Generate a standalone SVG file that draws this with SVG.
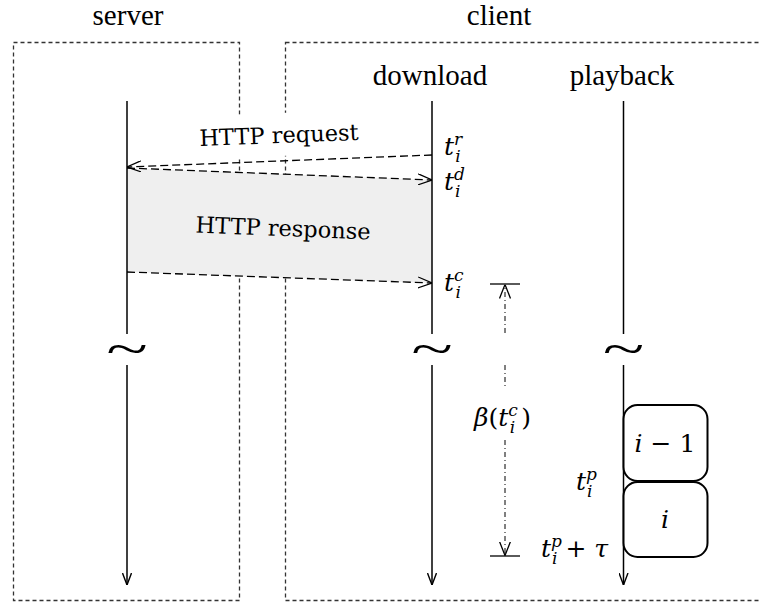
<svg xmlns="http://www.w3.org/2000/svg" width="760" height="603" viewBox="0 0 760 603">
  <style>
    .frame { fill: none; stroke: #333; stroke-width: 1.3; stroke-dasharray: 4 3; }
    .life { fill: none; stroke: #000; stroke-width: 1.5; }
    .msg { fill: none; stroke: #000; stroke-width: 1.3; stroke-dasharray: 8 4; }
    .span { fill: none; stroke: #000; stroke-width: 1; stroke-dasharray: 5 3 1 3; }
    .bar { fill: none; stroke: #000; stroke-width: 1.3; }
    .seg { fill: #fff; stroke: #000; stroke-width: 2; }
    .head { font-family: "Liberation Serif", "Times New Roman", "DejaVu Serif", serif; font-size: 29px; fill: #000; text-anchor: middle; }
    .lbl { font-family: "DejaVu Serif", serif; font-size: 22.5px; fill: #000; text-anchor: middle; }
    .m { font-family: "DejaVu Serif", serif; font-style: italic; font-size: 25px; fill: #000; }
    .s { font-size: 17px; }
    .n { font-style: normal; }
    .tilde { font-family: "Liberation Serif", serif; font-size: 48px; fill: #000; text-anchor: middle; }
  </style>
  <defs>
    <marker id="open" viewBox="0 0 14 12" refX="14" refY="6" markerWidth="14" markerHeight="12" markerUnits="userSpaceOnUse" orient="auto">
      <path d="M0,0.5 L14,6 L0,11.5" fill="none" stroke="#000" stroke-width="1.3"/>
    </marker>
    <marker id="down" viewBox="0 0 12 10" refX="12" refY="5" markerWidth="12" markerHeight="10" markerUnits="userSpaceOnUse" orient="auto">
      <path d="M0,0.5 L12,5 L0,9.5" fill="none" stroke="#000" stroke-width="1.4"/>
    </marker>
  </defs>

  <!-- participant frames -->
  <g id="server">
    <rect class="frame" x="13.5" y="42.5" width="226" height="558"/>
    <text class="head" x="128" y="25">server</text>
  </g>
  <g id="client">
    <rect class="frame" x="285.5" y="42.5" width="500" height="558"/>
    <text class="head" x="499" y="25">client</text>
    <text class="head" x="430" y="85">download</text>
    <text class="head" x="622" y="85">playback</text>
  </g>

  <!-- backdrop behind the request label -->
  <rect x="190" y="113" width="180" height="43" fill="#fff" transform="rotate(-2.25 279 136)"/>

  <!-- response transfer period -->
  <g id="response">
    <polygon points="127,168 432,180 432,283 127,272" fill="#efefef"/>
    <text class="lbl" x="283" y="236" transform="rotate(2.25 283 230)">HTTP response</text>
  </g>

  <g id="request">
    <text class="lbl" x="279" y="143" transform="rotate(-2.25 279 136)">HTTP request</text>
  </g>

  <!-- lifelines with time breaks -->
  <g id="lifelines">
    <line class="life" x1="127" y1="101" x2="127" y2="334"/>
    <line class="life" x1="127" y1="365" x2="127" y2="585" marker-end="url(#down)"/>
    <line class="life" x1="432" y1="101" x2="432" y2="334"/>
    <line class="life" x1="432" y1="365" x2="432" y2="585" marker-end="url(#down)"/>
    <line class="life" x1="623.5" y1="101" x2="623.5" y2="334"/>
    <line class="life" x1="623.5" y1="365" x2="623.5" y2="585" marker-end="url(#down)"/>
    <text class="tilde" transform="translate(127 365) scale(1.6 1)">~</text>
    <text class="tilde" transform="translate(432 365) scale(1.6 1)">~</text>
    <text class="tilde" transform="translate(623.5 365) scale(1.6 1)">~</text>
  </g>

  <!-- messages -->
  <g id="connectors">
    <line class="msg" x1="432" y1="155" x2="127" y2="167" marker-end="url(#open)"/>
    <line class="msg" x1="127" y1="168" x2="432" y2="180" marker-end="url(#open)"/>
    <line class="msg" x1="127" y1="272" x2="432" y2="283" marker-end="url(#open)"/>
    <!-- buffer span -->
    <line class="bar" x1="490" y1="284" x2="520" y2="284"/>
    <line class="bar" x1="490" y1="556" x2="520" y2="556"/>
    <line class="span" x1="505" y1="333" x2="505" y2="284.5" marker-end="url(#open)"/>
    <line class="span" x1="505" y1="365" x2="505" y2="388"/>
    <line class="span" x1="505" y1="440" x2="505" y2="555.5" marker-end="url(#open)"/>
  </g>

  <!-- time labels -->
  <g id="t-request">
    <text class="m" x="444" y="155">t<tspan class="s" dx="0" dy="-10">r</tspan><tspan class="s" dx="-7" dy="17">i</tspan></text>
  </g>
  <g id="t-first-byte">
    <text class="m" x="444" y="190">t<tspan class="s" dx="0" dy="-10">d</tspan><tspan class="s" dx="-10" dy="17">i</tspan></text>
  </g>
  <g id="t-complete">
    <text class="m" x="444" y="291">t<tspan class="s" dx="0" dy="-10">c</tspan><tspan class="s" dx="-8" dy="17">i</tspan></text>
  </g>
  <g id="buffer-label">
    <text class="m" x="474" y="426">β<tspan class="n">(</tspan>t<tspan class="s" dy="-10">c</tspan><tspan class="s" dx="-8" dy="17">i</tspan><tspan class="n" dx="6" dy="-7">)</tspan></text>
  </g>
  <g id="t-play">
    <text class="m" x="576" y="490">t<tspan class="s" dy="-10">p</tspan><tspan class="s" dx="-10" dy="17">i</tspan></text>
  </g>
  <g id="t-play-end">
    <text class="m" x="541" y="557">t<tspan class="s" dy="-10">p</tspan><tspan class="s" dx="-10" dy="17">i</tspan><tspan class="n" dx="8" dy="-7">+</tspan> τ</text>
  </g>

  <!-- playback segments -->
  <g id="segment-prev">
    <rect class="seg" x="623.5" y="405" width="84" height="76" rx="14"/>
    <text class="m" x="665" y="452" text-anchor="middle">i <tspan class="n">− 1</tspan></text>
  </g>
  <g id="segment-cur">
    <rect class="seg" x="623.5" y="482" width="84" height="75" rx="14"/>
    <text class="m" x="665" y="528" text-anchor="middle">i</text>
  </g>
</svg>
